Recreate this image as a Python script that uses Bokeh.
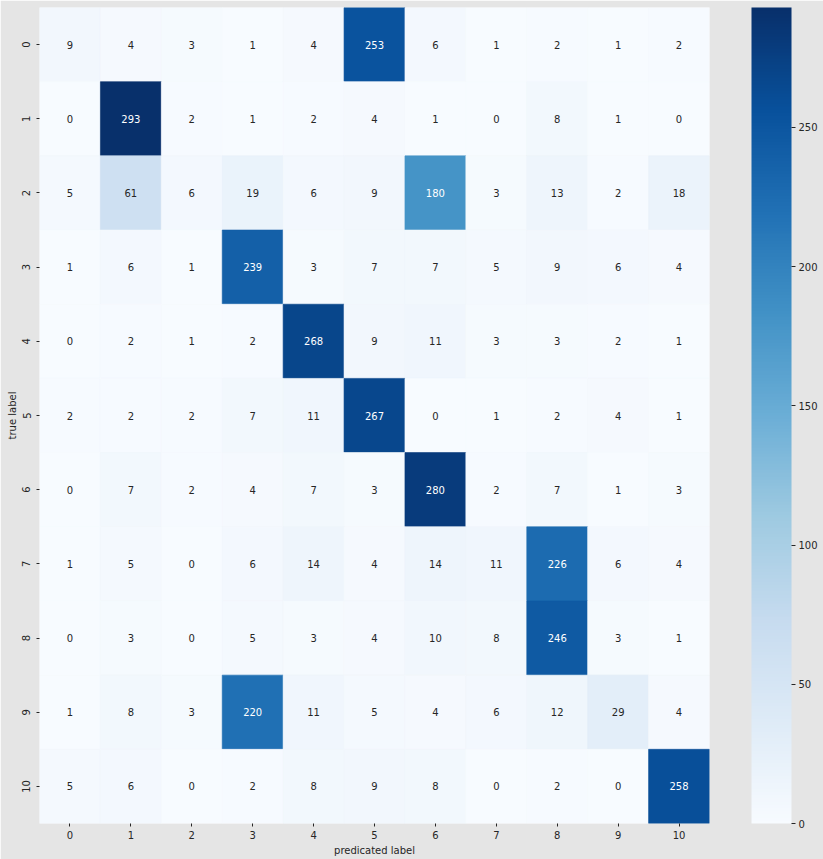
from bokeh.plotting import figure
from bokeh.models import ColumnDataSource, LinearColorMapper, ColorBar, FixedTicker
from bokeh.palettes import Blues256
from bokeh.embed import file_html
from bokeh.resources import INLINE
from bokeh.core.properties import value

labels = [str(i) for i in range(11)]
row0 = [9, 4, 3, 1, 4, 253, 6, 1, 2, 1, 2]
row1 = [0, 293, 2, 1, 2, 4, 1, 0, 8, 1, 0]
row2 = [5, 61, 6, 19, 6, 9, 180, 3, 13, 2, 18]
row3 = [1, 6, 1, 239, 3, 7, 7, 5, 9, 6, 4]
row4 = [0, 2, 1, 2, 268, 9, 11, 3, 3, 2, 1]
row5 = [2, 2, 2, 7, 11, 267, 0, 1, 2, 4, 1]
row6 = [0, 7, 2, 4, 7, 3, 280, 2, 7, 1, 3]
row7 = [1, 5, 0, 6, 14, 4, 14, 11, 226, 6, 4]
row8 = [0, 3, 0, 5, 3, 4, 10, 8, 246, 3, 1]
row9 = [1, 8, 3, 220, 11, 5, 4, 6, 12, 29, 4]
row10 = [5, 6, 0, 2, 8, 9, 8, 0, 2, 0, 258]
matrix = [row0, row1, row2, row3, row4, row5, row6, row7, row8, row9, row10]
cbar_ticks = [0, 50, 100, 150, 200, 250]

BG = "#e5e5e5"
FONT = "DejaVu Sans"
TXT = "#262626"
FS = "10px"

xs, ys, vals, txt, tcol = [], [], [], [], []
vmax = max(max(r) for r in matrix)
for i, row in enumerate(matrix):
    for j, v in enumerate(row):
        xs.append(labels[j])
        ys.append(labels[i])
        vals.append(v)
        txt.append(str(v))
        tcol.append("#ffffff" if v > 0.5 * vmax else TXT)

src = ColumnDataSource(dict(x=xs, y=ys, v=vals, t=txt, c=tcol))
mapper = LinearColorMapper(palette=list(reversed(Blues256)), low=0, high=vmax)

p = figure(frame_width=670, frame_height=816, x_range=labels, y_range=list(reversed(labels)),
           output_backend="svg", toolbar_location=None,
           min_border_left=39, min_border_top=7, min_border_right=114, min_border_bottom=36)
p.background_fill_color = BG
p.border_fill_color = BG
p.outline_line_color = None
p.grid.grid_line_color = None

p.rect(x="x", y="y", width=1, height=1, source=src,
       fill_color={"field": "v", "transform": mapper},
       line_color={"field": "v", "transform": mapper}, line_width=0.6)
p.text(x="x", y="y", text="t", source=src, text_color="c",
       text_align="center", text_baseline="middle",
       text_font=value(FONT), text_font_size=FS)

for ax in (p.xaxis, p.yaxis):
    ax.axis_line_color = None
    ax.major_tick_in = 0
    ax.major_tick_out = 3
    ax.major_tick_line_color = TXT
    ax.minor_tick_line_color = None
    ax.major_label_text_font = FONT
    ax.major_label_text_font_size = FS
    ax.major_label_text_color = TXT
    ax.axis_label_text_font = FONT
    ax.axis_label_text_font_size = FS
    ax.axis_label_text_font_style = "normal"
    ax.axis_label_text_color = TXT

p.xaxis.major_label_standoff = 4
p.xaxis.axis_label_standoff = 3
p.yaxis.major_label_standoff = 6
p.yaxis.axis_label_standoff = 2

p.xaxis.axis_label = "predicated label"
p.yaxis.axis_label = "true label"
p.yaxis.major_label_orientation = "vertical"

# transparent spacer between heatmap and colour bar
spacer = ColorBar(color_mapper=mapper, ticker=FixedTicker(ticks=[]), width=42, padding=0,
                  scale_alpha=0, bar_line_color=None, border_line_color=None,
                  background_fill_alpha=0, major_tick_line_color=None,
                  minor_tick_line_color=None, major_label_text_alpha=0)
p.add_layout(spacer, "right")

cb = ColorBar(color_mapper=mapper, ticker=FixedTicker(ticks=cbar_ticks),
              width=40, padding=0,
              background_fill_color=BG, border_line_color=None, bar_line_color=None,
              major_tick_in=0, major_tick_out=4, major_tick_line_color=TXT,
              minor_tick_line_color=None,
              major_label_text_font=FONT, major_label_text_font_size=FS,
              major_label_text_color=TXT, label_standoff=3)
p.add_layout(cb, "right")

open("out.html", "w").write(file_html(p, INLINE))
